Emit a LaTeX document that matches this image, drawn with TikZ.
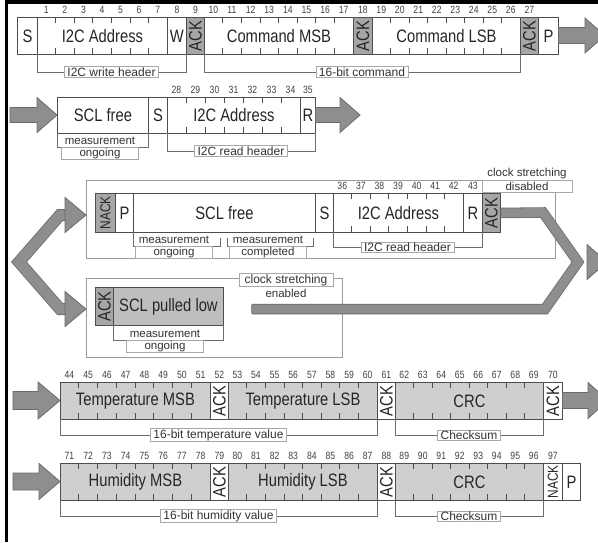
\documentclass[tikz,border=0pt]{standalone}
\usepackage{fontspec}
\usepackage{graphicx}
\setmainfont{Liberation Sans}
\newfontfamily\narrowf[FakeStretch=0.82]{Liberation Sans}
\usetikzlibrary{calc}
\definecolor{cellline}{HTML}{4D4D4D}
\definecolor{ackgray}{HTML}{A6A6A6}
\definecolor{datagray}{HTML}{CFCFCF}
\definecolor{lowgray}{HTML}{BEBEBE}
\definecolor{arrowfill}{HTML}{8E8E8E}
\definecolor{arrowline}{HTML}{6B6B6B}
\definecolor{panelline}{HTML}{9A9A9A}
\definecolor{lblline}{HTML}{A8A8A8}
\definecolor{brline}{HTML}{6E6E6E}
\tikzset{
  cell/.style={draw=cellline, line width=0.9pt, inner sep=0pt, font=\narrowf\fontsize{18}{18}\selectfont, text=black!85},
  num/.style={font=\narrowf\fontsize{10.5}{10.5}\selectfont, inner sep=0pt, text=black!75},
  tickmark/.style={draw=cellline, line width=0.7pt},
  lbl/.style={draw=lblline, fill=white, line width=0.6pt, font=\fontsize{12}{12}\selectfont, inner xsep=3pt, inner ysep=0.8pt, text=black!80},
  lbltxt/.style={font=\fontsize{11.5}{11.5}\selectfont, inner sep=0pt, text=black!80},
  brk/.style={draw=brline, line width=0.7pt},
  panel/.style={draw=panelline, line width=0.8pt},
  arrowpoly/.style={fill=arrowfill, draw=arrowline, line width=0.8pt, line join=miter},
  shaftdark/.style={draw=arrowline, line width=#1, line join=miter},
  shaftlight/.style={draw=arrowfill, line width=#1, line join=miter},
}
\newcommand\ackt{\rotatebox{90}{ACK}}
\newcommand\nackt{\rotatebox{90}{\fontsize{14.5}{14.5}\selectfont NACK}}
% name, x1, x2, top, bottom, nbits, firstbit, text, fill
\newcommand\bitfield[9]{%
  \pgfmathsetmacro\bfw{#3-#2}\pgfmathsetmacro\bfh{#5-#4}\pgfmathsetmacro\bfs{(#3-#2)/#6}%
  \node[cell, fill=#9, minimum width=\bfw pt, minimum height=\bfh pt, anchor=north west] (#1) at (#2,#4) {#8};
  \pgfmathtruncatemacro\bfm{#6-1}%
  \foreach \k in {1,...,\bfm} {
    \pgfmathsetmacro\tx{#2+\k*\bfs}
    \draw[tickmark] (\tx,#4) -- (\tx,#4+6) (\tx,#5) -- (\tx,#5-6);
  }
  \foreach \k in {1,...,#6} {
    \pgfmathsetmacro\cx{#2+(\k-0.5)*\bfs}
    \pgfmathtruncatemacro\bn{#7+\k-1}
    \node[num] (#1-n\k) at (\cx,#4-7) {\bn};
  }
}
% name, x1, x2, top, bottom, text, fill
\newcommand\cellbox[7]{%
  \pgfmathsetmacro\bfw{#3-#2}\pgfmathsetmacro\bfh{#5-#4}%
  \node[cell, fill=#7, minimum width=\bfw pt, minimum height=\bfh pt, anchor=north west] (#1) at (#2,#4) {#6};
}
\newcommand\cellnum[2]{\node[num] (#1-n) at ($(#1.north)+(0,-7)$) {#2};}
% name, x1, x2, ybot, yline, text
\newcommand\brak[6]{%
  \draw[brk] (#2,#4) -- (#2,#5) -- (#3,#5) -- (#3,#4);
  \node[lbl] (#1) at ({(#2+#3)/2},#5) {#6};
}
% name, cx, yline, line1, line2, pad
\newcommand\twolabel[6]{%
  \node[lbltxt] (#1-a) at (#2,#3-6.4) {#4};
  \coordinate (#1-l) at ($(#1-a.west)+(-#6,0)$);
  \coordinate (#1-r) at ($(#1-a.east)+(#6,0)$);
  \draw[draw=lblline, line width=0.6pt, fill=white] (#1-l |- 0,#3) rectangle (#1-r |- 0,#3+12);
  \node[lbltxt] (#1-b) at (#2,#3+6.1) {#5};
}
% x0, xb, xt, yc, s, h
\newcommand\rarrow[6]{%
  \draw[arrowpoly] (#1,#4-#5) -- (#2,#4-#5) -- (#2,#4-#6) -- (#3,#4) -- (#2,#4+#6) -- (#2,#4+#5) -- (#1,#4+#5) -- cycle;
}
\begin{document}
\begin{tikzpicture}[x=1pt,y=-1pt]
\fill[white] (0,0) rectangle (598,542);
\useasboundingbox (0,0) rectangle (598,542);
\fill[black] (5,0) rectangle (598,3.5);
\fill[black] (5,0) rectangle (7.5,542);

% ---------- Row 1 ----------
\cellbox{s1}{17}{37}{17}{54}{S}{white}
\bitfield{addr1}{37}{167}{17}{54}{7}{1}{I2C Address}{white}
\cellbox{w1}{167}{186}{17}{54}{W}{white}\cellnum{w1}{8}
\cellbox{ack1a}{186}{204}{17}{54}{\ackt}{ackgray}\cellnum{ack1a}{9}
\bitfield{cmsb}{204}{353}{17}{54}{8}{10}{Command MSB}{white}
\cellbox{ack1b}{353}{372}{17}{54}{\ackt}{ackgray}\cellnum{ack1b}{18}
\bitfield{clsb}{372}{520}{17}{54}{8}{19}{Command LSB}{white}
\cellbox{ack1c}{520}{538}{17}{54}{\ackt}{ackgray}\cellnum{ack1c}{27}
\cellbox{p1}{538}{558}{17}{54}{P}{white}
\brak{wh}{37}{186}{54}{72}{I2C write header}
\brak{cmd}{204}{520}{54}{72}{16-bit command}
\rarrow{558.5}{585}{605}{35.5}{8}{17.5}

% ---------- Row 2 ----------
\rarrow{10}{37}{57}{115}{7.5}{17.5}
\cellbox{scl2}{57}{148}{97}{133}{SCL free}{white}
\cellbox{s2}{148}{167}{97}{133}{S}{white}
\bitfield{addr2}{167}{300}{97}{133}{7}{28}{I2C Address}{white}
\cellbox{r2}{300}{315}{97}{133}{R}{white}\cellnum{r2}{35}
\rarrow{315.5}{340}{360}{115}{7.5}{17.5}
\draw[brk] (57,133) -- (57,147) -- (148,147) -- (148,133);
\twolabel{mo2}{100}{147}{measurement}{ongoing}{3}
\brak{rh2}{167}{315}{133}{151}{I2C read header}

% ---------- Row 3 panel ----------
\draw[panel] (86,180) rectangle (555,258);
\cellbox{nack3}{95}{115}{193}{232}{\nackt}{ackgray}
\cellbox{p3}{115}{133}{193}{232}{P}{white}
\cellbox{scl3}{133}{315}{193}{232}{SCL free}{white}
\cellbox{s3}{315}{333}{193}{232}{S}{white}
\bitfield{addr3}{333}{463}{193}{232}{7}{36}{I2C Address}{white}
\cellbox{r3}{463}{482}{193}{232}{R}{white}\cellnum{r3}{43}
\cellbox{ack3}{482}{500}{193}{232}{\ackt}{ackgray}
\draw[brk] (133,232) -- (133,246) -- (220,246) -- (220,238);
\twolabel{mo3}{174}{246}{measurement}{ongoing}{3}
\draw[brk] (227,238) -- (227,246) -- (313,246) -- (313,238);
\twolabel{mc3}{268}{246}{measurement}{completed}{3}
\brak{rh3}{333}{482}{232}{247}{I2C read header}
\twolabel{csd}{527}{180}{clock stretching}{disabled}{5}

% ---------- Row 4 panel ----------
\draw[panel] (86,278) rectangle (342,357);
\cellbox{ack4}{95}{113}{287}{325}{\ackt}{ackgray}
\cellbox{low4}{113}{223}{287}{325}{SCL pulled low}{lowgray}
\draw[brk] (113,325) -- (113,340) -- (223,340) -- (223,325);
\twolabel{mo4}{165}{340}{measurement}{ongoing}{3}
\node[lbl, minimum width=94pt] (cse) at (286,280) {clock stretching};
\node[lbltxt] (cse-b) at (286,293) {enabled};

% ---------- fork arrows ----------
\draw[shaftdark=12pt] (70,215) -- (60,215) -- (19,262) -- (60,309) -- (70,309);
\draw[shaftlight=10.4pt] (70,215) -- (60,215) -- (19,262) -- (60,309) -- (70,309);
\draw[arrowpoly] (65,197.5) -- (86,215) -- (65,232.5) -- cycle;
\draw[arrowpoly] (65,291.5) -- (86,309) -- (65,326.5) -- cycle;

\coordinate (lowstart) at (252,309);
\draw[shaftdark=10.5pt] (ack3.east) -- (543,212.5) -- (578,262) -- (545,309) -- (lowstart);
\draw[shaftlight=8.9pt] (ack3.east) -- (543,212.5) -- (578,262) -- (545,309) -- ([xshift=-0.8pt]lowstart);
\draw[arrowpoly] (587,244.5) -- (607,262) -- (587,279.5) -- cycle;

% ---------- Row 5 ----------
\rarrow{13}{38}{60}{400.5}{9}{18.5}
\bitfield{tmsb}{60}{210}{382}{419}{8}{44}{Temperature MSB}{datagray}
\cellbox{ack5a}{210}{228}{382}{419}{\ackt}{white}\cellnum{ack5a}{52}
\bitfield{tlsb}{228}{377}{382}{419}{8}{53}{Temperature LSB}{datagray}
\cellbox{ack5b}{377}{395}{382}{419}{\ackt}{white}\cellnum{ack5b}{61}
\bitfield{crc5}{395}{543}{382}{419}{8}{62}{CRC}{datagray}
\cellbox{ack5c}{543}{562}{382}{419}{\ackt}{white}\cellnum{ack5c}{70}
\rarrow{562.5}{588}{608}{400.5}{8}{18}
\brak{tv}{60}{377}{419}{435}{16-bit temperature value}
\brak{cs5}{395}{543}{419}{435}{Checksum}

% ---------- Row 6 ----------
\rarrow{13}{39}{60}{481.5}{8.5}{18}
\bitfield{hmsb}{60}{210}{463}{500}{8}{71}{Humidity MSB}{datagray}
\cellbox{ack6a}{210}{228}{463}{500}{\ackt}{white}\cellnum{ack6a}{79}
\bitfield{hlsb}{228}{377}{463}{500}{8}{80}{Humidity LSB}{datagray}
\cellbox{ack6b}{377}{395}{463}{500}{\ackt}{white}\cellnum{ack6b}{88}
\bitfield{crc6}{395}{543}{463}{500}{8}{89}{CRC}{datagray}
\cellbox{nack6}{543}{562}{463}{500}{\nackt}{white}\cellnum{nack6}{97}
\cellbox{p6}{562}{580}{463}{500}{P}{white}
\brak{hv}{60}{377}{500}{516}{16-bit humidity value}
\brak{cs6}{395}{543}{500}{516}{Checksum}
\end{tikzpicture}
\end{document}
